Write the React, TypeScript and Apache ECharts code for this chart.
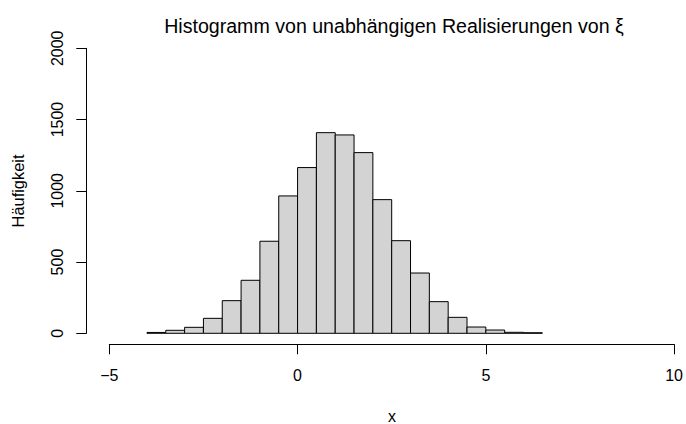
import React, { useEffect, useRef } from "react";
import * as echarts from "echarts";

const binEdges = [-4, -3.5, -3, -2.5, -2, -1.5, -1, -0.5, 0, 0.5, 1, 1.5, 2, 2.5, 3, 3.5, 4, 4.5, 5, 5.5, 6, 6.5];
const counts = [6, 21, 42, 105, 229, 372, 646, 964, 1163, 1408, 1392, 1268, 938, 650, 423, 222, 112, 44, 23, 7, 4];
const xTicks = [-5, 0, 5, 10];
const yTicks = [0, 500, 1000, 1500, 2000];

const titleText = "Histogramm von unabhängigen Realisierungen von ξ";
const xName = "x";
const yName = "Häufigkeit";
const FONT = "'Liberation Sans', Arial, Helvetica, sans-serif";

export default function App() {
  const ref = useRef<HTMLDivElement>(null);
  useEffect(() => {
    if (!ref.current) return;
    const chart = echarts.init(ref.current, null, { renderer: "svg" });
    const data = counts.map((c, i) => [binEdges[i], binEdges[i + 1], c]);
    chart.setOption({
      animation: false,
      backgroundColor: "#ffffff",
      textStyle: { fontFamily: FONT },
      title: {
        text: titleText,
        left: 389,
        top: 11,
        textAlign: "center",
        textStyle: { fontFamily: FONT, fontSize: 19.6, fontWeight: "normal", color: "#000" },
      },
      grid: { left: 109.3, right: 11.7, top: 48.3, bottom: 90.7, containLabel: false },
      xAxis: {
        type: "value",
        min: xTicks[0],
        max: xTicks[xTicks.length - 1],
        interval: 5,
        offset: 11,
        axisLine: { show: true, onZero: false, lineStyle: { color: "#000", width: 1 } },
        axisTick: { show: true, length: 10, lineStyle: { color: "#000" } },
        axisLabel: {
          margin: 23,
          color: "#000",
          fontSize: 16,
          fontFamily: FONT,
          formatter: (v: number) => String(v).replace("-", "\u2212"),
        },
        splitLine: { show: false },
      },
      yAxis: {
        type: "value",
        min: yTicks[0],
        max: yTicks[yTicks.length - 1],
        interval: 500,
        offset: 23,
        axisLine: { show: true, onZero: false, lineStyle: { color: "#000", width: 1 } },
        axisTick: { show: true, length: 10, lineStyle: { color: "#000" } },
        axisLabel: {
          margin: 21,
          rotate: 90,
          color: "#000",
          fontSize: 16,
          fontFamily: FONT,
          formatter: (v: number) => String(v),
        },
        splitLine: { show: false },
      },
      graphic: [
        {
          type: "text",
          x: 392,
          y: 416,
          style: { text: xName, fill: "#000", font: `16px ${FONT}`, align: "center", verticalAlign: "middle" },
        },
        {
          type: "text",
          x: 17.5,
          y: 191,
          rotation: Math.PI / 2,
          style: { text: yName, fill: "#000", font: `16.4px ${FONT}`, align: "center", verticalAlign: "middle" },
        },
      ],
      series: [
        {
          type: "custom",
          data,
          encode: { x: [0, 1], y: 2 },
          renderItem: (params: any, api: any) => {
            const p0 = api.coord([api.value(0), 0]);
            const p1 = api.coord([api.value(1), api.value(2)]);
            return {
              type: "rect",
              shape: { x: p0[0], y: p1[1], width: p1[0] - p0[0], height: p0[1] - p1[1] },
              style: { fill: "#D3D3D3", stroke: "#000", lineWidth: 1 },
            };
          },
        },
      ],
    });
    return () => chart.dispose();
  }, []);
  return <div ref={ref} style={{ position: "fixed", left: 0, top: 0, width: 686, height: 424 }} />;
}
